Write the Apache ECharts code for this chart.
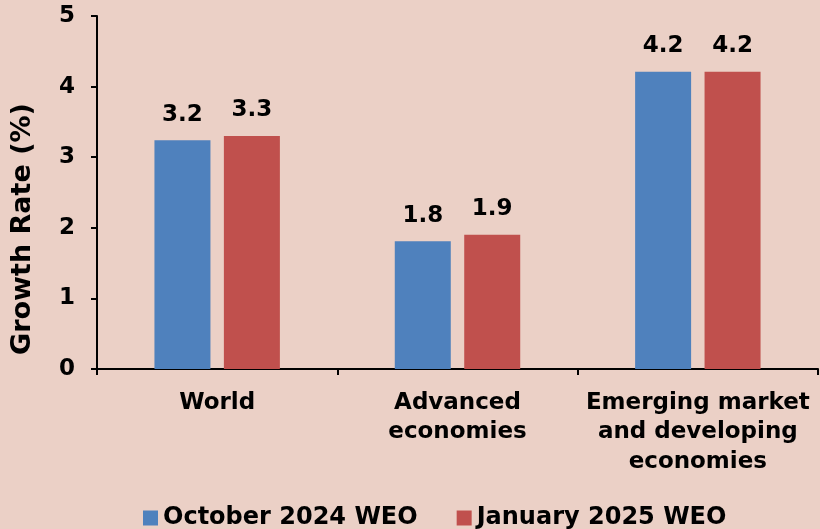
<!DOCTYPE html>
<html>
<head>
<meta charset="utf-8">
<script src="https://cdn.jsdelivr.net/npm/echarts@6/dist/echarts.min.js"></script>
<style>
html,body{margin:0;padding:0;background:#EBD0C6;}
#c{width:820px;height:529px;}
</style>
</head>
<body>
<div id="c"></div>
<script>
const categories = ["World", "Advanced\neconomies", "Emerging market\nand developing\neconomies"];
const seriesNames = ["October 2024 WEO", "January 2025 WEO"];
const oct2024 = [3.24, 1.81, 4.21];
const jan2025 = [3.30, 1.90, 4.21];
const yTicks = [0, 1, 2, 3, 4, 5];
const yTitle = "Growth Rate (%)";

const FONT = "DejaVu Sans";
const chart = echarts.init(document.getElementById('c'), null, {renderer: 'canvas'});
const labelCfg = {
  show: true, position: 'top', distance: 14,
  fontFamily: FONT, fontWeight: 'bold', fontSize: 23, color: '#000',
  formatter: p => p.value.toFixed(1)
};
chart.setOption({
  backgroundColor: '#EBD0C6',
  animation: false,
  textStyle: {fontFamily: FONT},
  grid: {left: 97, right: 2, top: 16, bottom: 160},
  graphic: [{
    type: 'text', x: 23, y: 229, rotation: Math.PI / 2,
    style: {text: yTitle, fontFamily: FONT, fontWeight: 'bold', fontSize: 27, fill: '#000',
            align: 'center', verticalAlign: 'middle'}
  }],
  legend: {
    bottom: -1, left: 143, padding: 0, itemWidth: 15, itemHeight: 15, itemGap: 39,
    icon: 'rect',
    textStyle: {fontFamily: FONT, fontWeight: 'bold', fontSize: 24, color: '#000'},
    data: seriesNames
  },
  xAxis: {
    type: 'category', data: categories,
    axisLine: {lineStyle: {color: '#000', width: 2}},
    axisTick: {show: true, alignWithLabel: false, length: 6, lineStyle: {color: '#000', width: 2}},
    axisLabel: {interval: 0, margin: 19, fontFamily: FONT, fontWeight: 'bold', fontSize: 23, color: '#000', lineHeight: 29.5}
  },
  yAxis: {
    type: 'value', min: yTicks[0], max: yTicks[yTicks.length - 1], interval: 1,
    axisLine: {show: true, lineStyle: {color: '#000', width: 2}},
    axisTick: {show: true, length: 6, lineStyle: {color: '#000', width: 2}},
    splitLine: {show: false},
    axisLabel: {margin: 22, fontFamily: FONT, fontWeight: 'bold', fontSize: 23, color: '#000'}
  },
  series: [
    {name: seriesNames[0], type: 'bar', data: oct2024, barWidth: 56, barGap: '24%',
     itemStyle: {color: '#4F81BD'}, label: labelCfg},
    {name: seriesNames[1], type: 'bar', data: jan2025, barWidth: 56, barGap: '24%',
     itemStyle: {color: '#C0504D'}, label: labelCfg}
  ]
});
</script>
</body>
</html>
